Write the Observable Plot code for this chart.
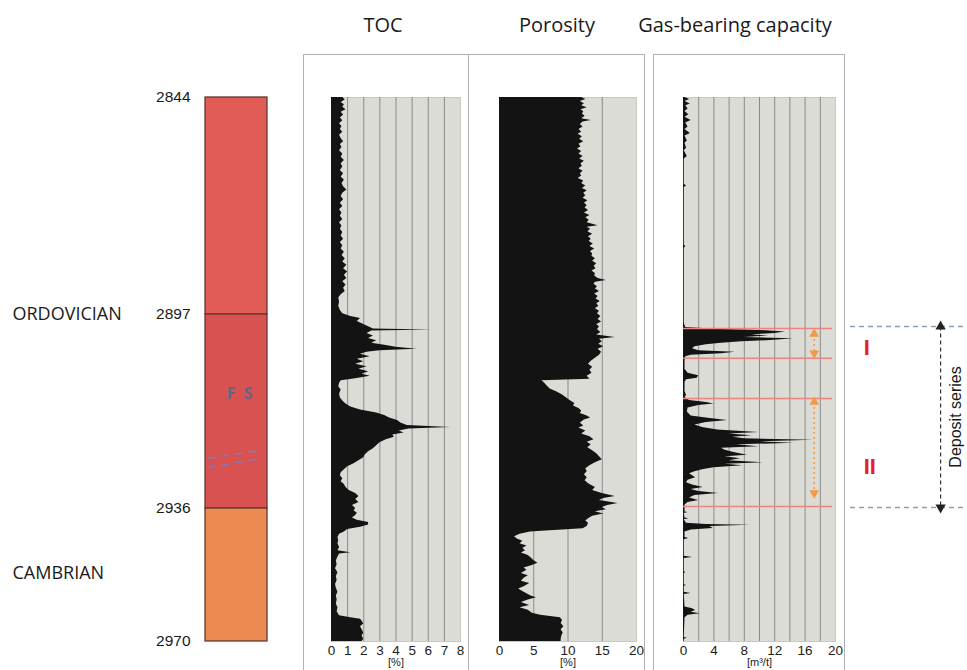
<!DOCTYPE html>
<html><head><meta charset="utf-8">
<script src="https://cdn.jsdelivr.net/npm/d3@7"></script>
<script src="https://cdn.jsdelivr.net/npm/@observablehq/plot@0.6"></script>
<style>
html,body{margin:0;padding:0;background:#fff;overflow:hidden;}
#wrap{position:relative;width:967px;height:670px;overflow:hidden;}
#wrap svg{position:absolute;left:0;top:0;}
.title{position:absolute;top:11px;font-family:"Open Sans",sans-serif;font-size:20px;line-height:27px;color:#1a1a1a;transform:translateX(-50%);white-space:nowrap;}
.trackframe{position:absolute;top:54px;height:640px;border:1px solid #b0b0b0;box-sizing:border-box;}
</style></head><body><div id="wrap"></div>
<script>
// ---------- data ----------
const depthBreaks = [2844, 2897, 2936, 2970];
const depthLabels = [2844, 2897, 2936, 2970];
const trackTitles = ["TOC", "Porosity", "Gas-bearing capacity"];
const units = ["[%]", "[%]", "[m³/t]"];
const tocTicks = [0, 1, 2, 3, 4, 5, 6, 7, 8];
const tocGrid = [1, 2, 3, 4, 5, 6, 7];
const porTicks = [0, 5, 10, 15, 20];
const porGrid = [5, 10, 15];
const gasTicks = [0, 4, 8, 12, 16, 20];
const gasGrid = [2, 4, 6, 8, 10, 12, 14, 16, 18];

const strata = [
  {top: 2844, bottom: 2897, color: "#e25c57"},
  {top: 2897, bottom: 2936, color: "#d85251"},
  {top: 2936, bottom: 2970, color: "#ec8b51"}
];
const periods = [
  {depth: 2897, name: "ORDOVICIAN"},
  {depth: 2952.6, name: "CAMBRIAN"}
];
const gasZoneLines = [2899.8, 2905.8, 2913.9, 2935.6];
const gasZones = [
  {top: 2899.8, bottom: 2905.8, arrowTop: 2900.9, arrowBottom: 2904.8, name: "I", labelDepth: 2903.8},
  {top: 2913.9, bottom: 2935.6, arrowTop: 2914.6, arrowBottom: 2932.9, name: "II", labelDepth: 2927.6}
];
const depositBounds = [2899.4, 2935.8];

// [depth (m), TOC (%)]
const tocLog = [
[2844.0,0.7],[2844.6,0.85],[2845.2,0.6],[2845.8,0.8],[2846.4,0.7],[2847.0,0.9],[2847.6,0.6],[2848.3,0.75],[2849.0,0.55],[2849.7,0.7],
[2850.4,0.5],[2851.1,0.65],[2851.8,0.55],[2852.5,0.7],[2853.2,0.5],[2854.0,0.6],[2854.8,0.75],[2855.5,0.55],[2856.2,0.65],[2857.0,0.5],
[2857.8,0.7],[2858.6,0.6],[2859.4,0.8],[2860.2,0.6],[2861.0,0.7],[2861.8,0.55],[2862.6,0.75],[2863.4,0.6],[2864.2,0.8],[2865.0,0.65],
[2865.8,0.75],[2866.6,0.95],[2867.4,0.7],[2868.2,0.6],[2869.0,0.75],[2869.8,0.55],[2870.6,0.7],[2871.4,0.5],[2872.2,0.65],[2873.0,0.55],
[2873.8,0.7],[2874.6,0.5],[2875.4,0.65],[2876.2,0.55],[2877.0,0.7],[2877.8,0.6],[2878.6,0.75],[2879.4,0.55],[2880.2,0.7],[2881.0,0.6],
[2881.8,0.8],[2882.6,0.65],[2883.4,0.85],[2884.2,0.7],[2885.0,0.95],[2885.8,0.75],[2886.6,1.0],[2887.4,0.8],[2888.2,0.95],[2889.0,0.7],
[2889.8,0.9],[2890.6,0.75],[2891.4,0.85],[2892.2,0.6],[2893.0,0.45],[2894.0,0.5],[2895.0,0.45],[2896.0,0.55],[2896.8,0.7],
[2897.4,1.2],[2897.8,1.8],[2898.4,1.6],[2899.0,2.0],[2899.6,2.4],[2899.9,2.6],[2900.1,6.2],[2900.3,2.5],[2900.8,2.2],[2901.3,2.6],
[2901.8,2.3],[2902.3,2.8],[2902.8,2.5],[2903.2,3.3],[2903.6,4.0],[2904.0,5.3],[2904.3,3.0],[2904.6,2.2],[2905.0,1.8],[2905.5,2.4],
[2906.0,1.6],[2906.5,2.0],[2907.0,1.5],[2907.5,2.2],[2908.0,1.7],[2908.5,2.3],[2909.0,1.9],[2909.4,2.4],[2909.9,1.5],[2910.3,0.6],
[2910.8,0.5],[2911.5,0.45],[2912.2,0.6],[2913.0,0.5],[2913.8,0.55],[2914.4,0.7],[2915.0,0.9],[2915.6,1.2],[2916.2,1.8],[2916.8,2.8],
[2917.3,3.3],[2917.8,3.6],[2918.3,4.1],[2918.8,4.3],[2919.3,4.7],[2919.7,7.4],[2920.0,4.8],[2920.4,4.2],[2920.8,4.5],[2921.2,3.8],
[2921.7,3.9],[2922.2,3.4],[2922.8,3.0],[2923.4,2.8],[2924.0,2.6],[2924.6,2.3],[2925.2,2.1],[2925.8,2.0],[2926.4,1.7],[2927.0,1.4],
[2927.6,1.0],[2928.2,0.8],[2928.8,0.6],[2929.4,0.55],[2930.0,0.7],[2930.6,0.6],[2931.2,0.8],[2931.8,0.9],[2932.4,1.1],[2933.0,1.5],
[2933.6,1.7],[2934.2,1.5],[2934.8,1.7],[2935.4,1.3],[2936.0,1.5],[2936.6,1.4],[2937.2,1.6],[2937.8,1.5],[2938.4,1.3],[2939.0,1.6],
[2939.6,2.3],[2940.2,2.3],[2940.8,1.8],[2941.4,1.0],[2942.0,0.8],[2942.6,0.5],[2943.4,0.4],[2944.2,0.45],[2945.0,0.4],[2946.0,0.5],
[2946.8,0.4],[2947.3,1.2],[2947.6,0.5],[2948.4,0.4],[2949.4,0.3],[2950.4,0.35],[2951.4,0.25],[2952.4,0.4],[2953.4,0.3],[2954.4,0.35],
[2955.4,0.25],[2956.4,0.3],[2957.4,0.4],[2958.4,0.3],[2959.4,0.35],[2960.4,0.3],[2961.4,0.4],[2962.4,0.35],[2963.4,0.5],[2963.9,1.2],
[2964.3,1.8],[2964.8,1.9],[2965.5,2.0],[2966.2,1.8],[2967.0,1.9],[2967.8,2.0],[2968.6,1.9],[2969.4,2.0],[2970.0,1.9]
];

// [depth (m), porosity (%)]
const porosityLog = [
[2844.0,12.0],[2844.5,12.6],[2845.0,11.8],[2845.5,12.4],[2846.0,12.0],[2846.5,12.8],[2847.0,11.9],[2847.5,12.3],[2848.0,12.1],[2848.6,12.5],
[2849.2,12.0],[2849.6,13.4],[2850.0,12.2],[2850.6,11.8],[2851.2,12.2],[2851.8,11.6],[2852.4,12.0],[2853.0,11.5],[2853.6,12.1],[2854.2,11.7],
[2854.8,12.3],[2855.4,11.6],[2856.0,11.9],[2856.6,11.4],[2857.2,12.0],[2857.8,11.6],[2858.4,12.2],[2859.0,11.7],[2859.6,12.4],[2860.2,11.9],
[2860.8,12.1],[2861.4,11.6],[2862.0,12.2],[2862.6,11.8],[2863.2,12.0],[2863.8,11.5],[2864.4,12.3],[2865.0,12.0],[2865.6,12.6],[2866.2,12.1],
[2866.8,12.8],[2867.4,12.3],[2868.0,12.6],[2868.6,12.2],[2869.2,12.9],[2869.8,12.4],[2870.4,12.8],[2871.0,12.5],[2871.6,13.0],[2872.2,12.4],
[2872.8,13.2],[2873.4,12.6],[2874.0,13.1],[2874.6,12.8],[2875.3,14.4],[2875.7,12.8],[2876.2,13.3],[2876.8,12.9],[2877.4,13.6],[2878.0,13.0],
[2878.6,13.4],[2879.2,13.1],[2879.8,13.7],[2880.4,13.2],[2881.0,13.9],[2881.6,13.3],[2882.2,13.6],[2882.8,13.5],[2883.4,14.0],[2884.0,13.6],
[2884.6,14.2],[2885.2,13.8],[2885.8,14.1],[2886.4,13.5],[2887.0,14.0],[2887.6,13.9],[2888.2,14.4],[2888.7,15.6],[2889.1,14.0],[2889.6,13.8],
[2890.2,14.3],[2890.8,14.0],[2891.4,14.6],[2892.0,13.9],[2892.6,14.4],[2893.2,14.1],[2893.8,14.7],[2894.4,14.2],[2895.0,14.5],[2895.6,14.0],
[2896.2,14.6],[2896.8,14.3],[2897.4,14.8],[2898.0,14.4],[2898.5,14.9],[2899.0,14.2],[2899.5,14.6],[2900.0,14.3],[2900.6,14.8],[2901.1,14.2],
[2901.6,16.9],[2902.0,14.6],[2902.5,15.0],[2903.0,14.5],[2903.5,15.2],[2904.0,14.4],[2904.6,14.9],[2905.2,14.6],[2905.8,14.0],[2906.4,13.4],
[2907.0,13.0],[2907.6,13.6],[2908.2,13.2],[2908.8,13.5],[2909.4,12.8],[2910.0,13.2],[2910.3,6.2],[2910.8,6.6],[2911.4,7.0],[2912.0,7.4],
[2912.6,8.4],[2913.2,9.2],[2913.8,9.8],[2914.4,10.4],[2914.9,11.0],[2915.4,10.8],[2915.9,11.6],[2916.4,12.0],[2916.9,11.8],[2917.4,12.8],
[2917.8,13.3],[2918.2,12.4],[2918.8,11.8],[2919.4,12.3],[2919.8,11.6],[2920.4,12.6],[2921.0,12.0],[2921.6,13.2],[2922.2,13.8],[2922.7,12.8],
[2923.2,13.4],[2923.8,12.9],[2924.4,13.6],[2925.0,14.2],[2925.6,14.6],[2926.2,15.0],[2926.8,14.0],[2927.4,13.2],[2928.0,12.6],[2928.6,12.8],
[2929.2,12.4],[2929.8,12.8],[2930.4,12.5],[2931.0,13.0],[2931.8,14.0],[2932.4,13.6],[2933.0,15.0],[2933.6,16.9],[2934.0,15.2],[2934.4,14.6],
[2935.0,17.3],[2935.4,15.8],[2935.8,15.0],[2936.3,15.6],[2936.8,14.0],[2937.4,15.2],[2938.0,13.6],[2938.6,13.0],[2939.2,12.6],[2939.8,13.0],
[2940.6,12.8],[2941.2,12.2],[2941.6,8.0],[2942.0,4.5],[2942.6,3.0],[2943.2,2.2],[2943.8,2.6],[2944.4,3.4],[2945.0,3.0],[2945.6,4.0],
[2946.2,3.4],[2946.8,3.8],[2947.4,3.2],[2948.0,4.2],[2948.6,4.6],[2949.3,5.0],[2950.0,5.6],[2950.6,4.8],[2951.2,3.6],[2951.8,4.0],
[2952.6,3.2],[2953.2,4.2],[2953.8,3.6],[2954.6,3.2],[2955.2,4.4],[2956.0,3.6],[2956.6,2.8],[2957.2,3.4],[2957.8,4.0],[2958.4,4.6],
[2958.8,5.4],[2959.4,4.2],[2960.0,3.2],[2960.8,4.4],[2961.4,3.0],[2962.0,4.2],[2962.8,4.8],[2963.3,6.0],[2963.9,8.9],[2964.6,9.2],
[2965.4,9.0],[2966.2,9.4],[2967.0,9.0],[2967.8,9.3],[2968.6,9.1],[2969.4,9.0],[2970.0,9.0]
];

// [depth (m), gas-bearing capacity (m3/t)]
const gasLog = [
[2844.0,0.2],[2844.5,0.8],[2845.0,0.2],[2845.6,0.9],[2846.0,0.3],[2846.8,0.6],[2847.4,0.2],[2848.2,0.7],[2848.8,0.2],[2849.6,1.0],
[2850.2,0.3],[2851.2,0.6],[2851.8,0.2],[2852.8,0.9],[2853.4,0.2],[2854.6,0.5],[2855.2,0.2],[2856.4,0.4],[2857.0,0.1],[2858.4,0.5],
[2859.0,0.1],[2865.2,0.1],[2865.6,0.4],[2866.0,0.1],[2880.0,0.1],[2880.4,0.3],[2880.8,0.1],[2896.0,0.1],[2898.8,0.1],[2899.6,0.3],
[2900.0,5.0],[2900.2,10.0],[2900.5,13.4],[2900.8,12.0],[2901.1,9.0],[2901.3,11.2],[2901.6,8.0],[2901.9,14.5],[2902.2,12.0],[2902.5,7.7],
[2902.8,5.0],[2903.1,3.0],[2903.5,1.5],[2903.9,1.2],[2904.3,2.0],[2904.6,6.8],[2904.9,5.0],[2905.2,1.0],[2905.5,0.3],[2906.4,0.2],
[2908.0,0.2],[2908.8,0.6],[2909.3,2.0],[2909.8,1.8],[2910.1,0.4],[2910.6,0.2],[2912.5,0.2],[2913.3,0.4],[2913.7,0.2],[2914.3,0.8],
[2914.7,3.0],[2915.0,4.0],[2915.3,2.0],[2915.8,0.6],[2916.6,0.5],[2917.4,1.0],[2917.9,3.5],[2918.3,5.8],[2918.7,3.0],[2919.2,1.5],
[2919.7,2.5],[2920.2,4.5],[2920.7,9.9],[2921.0,6.0],[2921.4,9.0],[2921.7,6.5],[2922.0,8.0],[2922.3,17.1],[2922.6,10.0],[2922.9,14.5],
[2923.2,7.0],[2923.6,9.9],[2923.9,5.0],[2924.3,5.5],[2924.7,6.5],[2925.3,8.4],[2925.6,5.5],[2926.0,7.5],[2926.4,6.0],[2926.8,10.5],
[2927.1,5.5],[2927.4,7.8],[2927.8,4.0],[2928.2,2.5],[2928.6,1.5],[2929.0,0.8],[2929.8,1.6],[2930.3,0.6],[2930.8,0.4],[2931.3,1.2],
[2931.8,2.6],[2932.2,1.0],[2932.6,2.0],[2933.0,4.6],[2933.4,1.5],[2933.9,0.8],[2934.4,2.0],[2934.8,0.6],[2935.3,0.2],[2936.9,0.2],
[2937.0,0.6],[2937.3,0.1],[2938.4,0.2],[2938.6,0.7],[2938.9,0.1],[2939.8,0.4],[2940.1,3.0],[2940.3,8.8],[2940.6,3.5],[2941.1,3.9],
[2941.5,1.0],[2942.0,0.2],[2943.4,0.2],[2943.7,0.7],[2944.0,0.1],[2948.2,0.1],[2948.5,1.2],[2948.8,0.1],[2952.2,0.1],[2952.4,0.3],
[2952.6,0.1],[2955.5,0.1],[2955.7,0.4],[2955.9,0.1],[2957.4,0.1],[2957.7,1.0],[2958.0,0.1],[2961.2,0.2],[2961.6,1.2],[2962.1,1.6],
[2962.5,1.0],[2962.9,2.2],[2963.3,0.6],[2963.9,0.2],[2969.0,0.1],[2969.2,0.5],[2969.4,0.1],[2970.0,0.1]
];

// lithology symbol dashes in the FS unit: [depth start, depth end]
const fsDashes = [[2925.9, 2924.3], [2927.8, 2925.9]];

// ---------- layout (pixels) ----------
const W = 967, H = 670, TOP = 97, BOTTOM = 641;
// the depth axis of the log is drawn with uneven stretch per interval
const depthStretch = d3.scaleLinear().domain(depthBreaks).range([0, 217, 411, 544]);
const yScale = {transform: (d) => depthStretch(d), domain: [0, 544], range: [TOP, BOTTOM], axis: null};
const baseStyle = {background: "transparent", overflow: "visible", fontFamily: "'Liberation Sans', Arial, sans-serif", fontSize: "13px", color: "#222"};
const wrap = document.getElementById("wrap");

// track frames and titles
[[303, 166], [468, 177], [653, 192]].forEach(([l, w]) => {
  const d = document.createElement("div");
  d.className = "trackframe"; d.style.left = l + "px"; d.style.width = w + "px";
  wrap.appendChild(d);
});
[383, 557, 735].forEach((cx, i) => {
  const d = document.createElement("div");
  d.className = "title"; d.style.left = cx + "px"; d.textContent = trackTitles[i];
  wrap.appendChild(d);
});

function track({log, domain, ticks, grid, left, right, unit, extra = []}) {
  return Plot.plot({
    width: W, height: H,
    marginLeft: left, marginRight: W - right, marginTop: TOP, marginBottom: H - BOTTOM,
    style: baseStyle,
    x: {domain, axis: null},
    y: {...yScale},
    marks: [
      Plot.frame({fill: "#dcdcd7", stroke: "#c9c9c4"}),
      Plot.gridX(grid, {stroke: "#8a8a8a", strokeOpacity: 1, strokeWidth: 1}),
      Plot.areaX(log, {y: d => d[0], x1: 0, x2: d => d[1], fill: "#131313", curve: "linear"}),
      ...extra,
      Plot.axisX(ticks, {anchor: "bottom", tickSize: 0, tickPadding: 4, fontSize: 13.5, fill: "#222", label: null, tickFormat: d => String(d)}),
      Plot.text([unit], {text: d => d, frameAnchor: "bottom", lineAnchor: "top", dy: 17, fontSize: 11, fill: "#222"})
    ]
  });
}

const orange = "#f29a45";
wrap.appendChild(track({log: tocLog, domain: [0, 8], ticks: tocTicks, grid: tocGrid, left: 331, right: 460, unit: units[0]}));
wrap.appendChild(track({log: porosityLog, domain: [0, 20], ticks: porTicks, grid: porGrid, left: 499, right: 636, unit: units[1]}));
wrap.appendChild(track({
  log: gasLog, domain: [0, 20], ticks: gasTicks, grid: gasGrid, left: 683, right: 835, unit: units[2],
  extra: [
    Plot.ruleY(gasZoneLines, {x1: 0, x2: 19.6, stroke: "#ec8480", strokeWidth: 1.6}),
    Plot.link(gasZones, {x1: 17.2, x2: 17.2, y1: "arrowTop", y2: "arrowBottom", stroke: orange, strokeWidth: 1.5, strokeDasharray: "2,3"}),
    Plot.dot(gasZones, {x: 17.2, y: "arrowTop", symbol: "triangle", r: 3.6, fill: orange, stroke: null}),
    Plot.dot(gasZones, {x: 17.2, y: "arrowBottom", symbol: "triangle", rotate: 180, r: 3.6, fill: orange, stroke: null})
  ]
}));

// lithology column
wrap.appendChild(Plot.plot({
  width: W, height: H,
  marginLeft: 205, marginRight: W - 267, marginTop: TOP, marginBottom: H - BOTTOM,
  style: baseStyle,
  x: {domain: [0, 1], axis: null},
  y: {...yScale},
  marks: [
    Plot.rect(strata, {x1: 0, x2: 1, y1: "top", y2: "bottom", fill: "color", stroke: "#5e3a32", strokeWidth: 1.3}),
    Plot.text(["F  S"], {x: 0.55, y: 2913.0, text: d => d, fill: "#646680", fontWeight: "bold", fontSize: 16, fontFamily: "'Open Sans', sans-serif"}),
    Plot.link(fsDashes, {x1: 0.03, x2: 0.9, y1: d => d[0], y2: d => d[1], stroke: "#8678b4", strokeWidth: 1.6, strokeDasharray: "8,6"}),
    Plot.axisY(depthLabels, {anchor: "left", tickSize: 0, tickPadding: 15, fontSize: 15.5, fill: "#1a1a1a", label: null, tickFormat: d => String(d)}),
    Plot.text(periods, {y: "depth", text: "name", frameAnchor: "left", textAnchor: "start", dx: -193, fontSize: 18, fill: "#1a1a1a", fontFamily: "'Open Sans', sans-serif"})
  ]
}));

// deposit series annotation
const arrowEnds = [{depth: depositBounds[0], rot: 0}, {depth: depositBounds[1], rot: 180}];
wrap.appendChild(Plot.plot({
  width: W, height: H,
  marginLeft: 850, marginRight: 0, marginTop: TOP, marginBottom: H - BOTTOM,
  style: baseStyle,
  x: {domain: [0, 1], axis: null},
  y: {...yScale},
  marks: [
    Plot.ruleY(depositBounds, {stroke: "#86a4b6", strokeWidth: 1.4, strokeDasharray: "5,4"}),
    Plot.link([depositBounds], {x1: 0.77, x2: 0.77, y1: d => d[0], y2: d => d[1], stroke: "#333", strokeWidth: 1.2, strokeDasharray: "4,3"}),
    Plot.dot(arrowEnds, {x: 0.77, y: "depth", rotate: "rot", symbol: "triangle", r: 3.8, fill: "#222", stroke: null}),
    Plot.text(gasZones, {x: (d, i) => [0.14, 0.165][i], y: "labelDepth", text: "name", fill: "#e3202e", fontWeight: "bold", fontSize: 22}),
    Plot.text(["Deposit series"], {x: 0.9, y: d3.mean(depositBounds), text: d => d, rotate: -90, fontSize: 16, fill: "#1a1a1a"})
  ]
}));
</script></body></html>
